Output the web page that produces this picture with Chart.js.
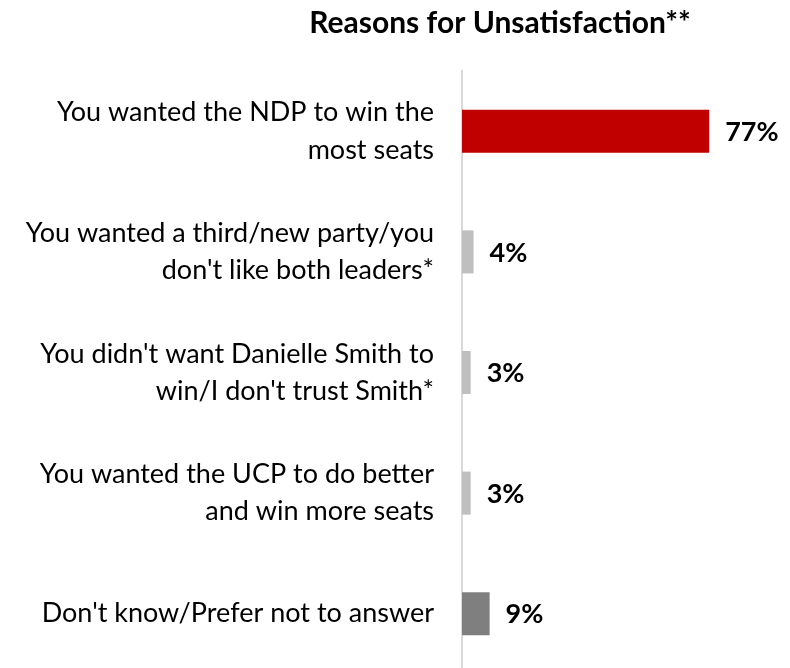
<!DOCTYPE html>
<html>
<head>
<meta charset="utf-8">
<script src="https://cdn.jsdelivr.net/npm/chart.js@4"></script>
<style>
  html, body { margin: 0; padding: 0; overflow: hidden; background: #fff; }
  #wrap { width: 790px; height: 668px; overflow: hidden; position: relative; }
  #box { width: 790px; height: 674px; position: absolute; left: 0; top: 0; }
</style>
</head>
<body>
<div id="wrap"><div id="box"><canvas id="c"></canvas></div></div>
<script>
const titleText = "Reasons for Unsatisfaction**";
const categories = [
  ["You wanted the NDP to win the", "most seats"],
  ["You wanted a third/new party/you", "don't like both leaders*"],
  ["You didn't want Danielle Smith to", "win/I don't trust Smith*"],
  ["You wanted the UCP to do better", "and win more seats"],
  ["Don't know/Prefer not to answer"]
];
const values = [77, 3.6, 2.7, 2.7, 8.6];
const valueLabels = ["77%", "4%", "3%", "3%", "9%"];
const barColors = ["#C00000", "#BFBFBF", "#BFBFBF", "#BFBFBF", "#7F7F7F"];

const FONT = "Lato, 'Open Sans', sans-serif";

const titlePlugin = {
  id: 'customTitle',
  afterDraw(chart) {
    const ctx = chart.ctx;
    ctx.save();
    ctx.font = "bold 30px " + FONT;
    ctx.fillStyle = "#000";
    ctx.textAlign = "center";
    ctx.textBaseline = "middle";
    ctx.fillText(titleText, 500, 23);
    ctx.restore();
  }
};

const valueLabelPlugin = {
  id: 'valueLabels',
  afterDatasetsDraw(chart) {
    const ctx = chart.ctx;
    const meta = chart.getDatasetMeta(0);
    ctx.save();
    ctx.font = "bold 27px " + FONT;
    ctx.fillStyle = "#000";
    ctx.textAlign = "left";
    ctx.textBaseline = "middle";
    meta.data.forEach((bar, i) => {
      ctx.fillText(valueLabels[i], bar.x + 16, bar.y + 1);
    });
    ctx.restore();
  }
};

new Chart(document.getElementById('c'), {
  type: 'bar',
  data: {
    labels: categories,
    datasets: [{
      data: values,
      backgroundColor: barColors,
      borderWidth: 0,
      categoryPercentage: 1,
      barPercentage: 0.357
    }]
  },
  options: {
    indexAxis: 'y',
    responsive: true,
    maintainAspectRatio: false,
    animation: false,
    devicePixelRatio: 1,
    layout: { padding: { top: 71, right: 7, bottom: 0, left: 0 } },
    plugins: {
      legend: { display: false },
      title: { display: false },
      tooltip: { enabled: false }
    },
    scales: {
      x: { display: false, min: 0, max: 100 },
      y: {
        afterFit(scale) {
          scale.width = 462;
          scale.paddingTop = 0;
          scale.paddingBottom = 0;
        },
        grid: { display: false, drawTicks: false },
        border: { display: true, color: "#D9D9D9", width: 2 },
        ticks: {
          padding: 28,
          color: "#000",
          font: { family: FONT, size: 27, lineHeight: 1.38 }
        }
      }
    }
  },
  plugins: [titlePlugin, valueLabelPlugin]
});
</script>
</body>
</html>
